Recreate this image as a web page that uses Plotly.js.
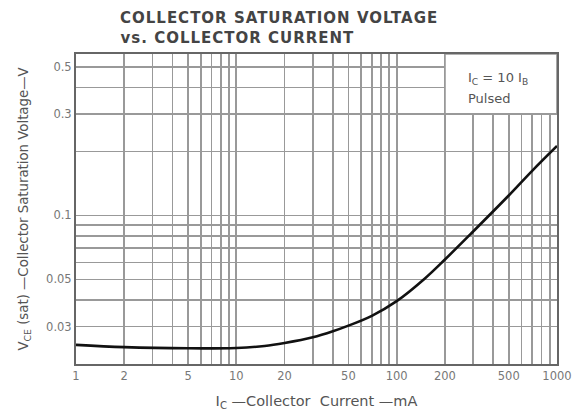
<!DOCTYPE html>
<html>
<head>
<meta charset="utf-8">
<script src="https://cdn.plot.ly/plotly-3.0.1.min.js"></script>
<style>html,body{margin:0;padding:0;background:#fff;}#chart{width:583px;height:412px;}</style>
</head>
<body>
<div id="chart"></div>
<script>
// Curve data (collector current mA, VCE(sat) V)
const currentMA = [1, 2, 5, 10, 15, 20, 30, 40, 50, 70, 100, 150, 200, 300, 500, 700, 1000];
const vceSat = [0.0246, 0.0240, 0.0237, 0.0238, 0.0243, 0.0251, 0.0267, 0.0285, 0.0303, 0.0337, 0.0395, 0.0505, 0.062, 0.084, 0.124, 0.162, 0.212];

// Grid/tick definitions
const xGrid = [1,2,3,4,5,6,7,8,9,10,20,30,40,50,60,70,80,90,100,200,300,400,500,600,700,800,900,1000];
const xLabels = {1:'1',2:'2',5:'5',10:'10',20:'20',50:'50',100:'100',200:'200',500:'500',1000:'1000'};
const yGrid = [0.02,0.03,0.04,0.05,0.06,0.07,0.08,0.09,0.1,0.2,0.3,0.4,0.5];
const yLabels = {0.03:'0.03',0.05:'0.05',0.1:'0.1',0.3:'0.3',0.5:'0.5'};

const titleLine1 = 'COLLECTOR SATURATION VOLTAGE';
const titleLine2 = 'vs. COLLECTOR CURRENT';
const xTitle = 'I<sub>C</sub> \u2014Collector  Current \u2014mA';
const yTitle = 'V<sub>CE</sub> (sat) \u2014Collector Saturation Voltage\u2014V';
const noteLine1 = 'I<sub>C</sub> = 10 I<sub>B</sub>';
const noteLine2 = 'Pulsed';

const gridColor = '#999';
const textColor = '#555';

const trace = {
  x: currentMA, y: vceSat, type: 'scatter', mode: 'lines',
  line: {color: '#111', width: 2.6, shape: 'spline', smoothing: 1},
  hoverinfo: 'skip'
};

const layout = {
  width: 583, height: 412,
  margin: {l: 76, r: 26, t: 54, b: 48},
  paper_bgcolor: '#fff', plot_bgcolor: '#fff',
  showlegend: false,
  font: {family: 'DejaVu Sans, sans-serif', color: textColor, size: 11},
  xaxis: {
    type: 'log', range: [0, 3],
    tickmode: 'array', tickvals: xGrid, ticktext: xGrid.map(v => xLabels[v] || ''),
    ticks: '', showgrid: true, gridcolor: gridColor, gridwidth: 1.7,
    showline: true, mirror: true, linecolor: '#666', linewidth: 2,
    zeroline: false,
    tickfont: {family: 'DejaVu Sans, sans-serif', size: 11.5, color: '#777'},
    title: {text: xTitle, font: {family: 'DejaVu Sans, sans-serif', size: 14.5, color: textColor}, standoff: 14}
  },
  yaxis: {
    type: 'log', range: [Math.log10(0.02), Math.log10(0.574)],
    tickmode: 'array', tickvals: yGrid, ticktext: yGrid.map(v => yLabels[v] || ''),
    ticks: '', showgrid: true, gridcolor: gridColor, gridwidth: 1.7,
    showline: true, mirror: true, linecolor: '#666', linewidth: 2,
    zeroline: false,
    tickfont: {family: 'DejaVu Sans, sans-serif', size: 11.5, color: '#777'},
    title: {text: yTitle, font: {family: 'DejaVu Sans, sans-serif', size: 13.3, color: textColor}, standoff: 14}
  },
  shapes: [{
    type: 'rect', xref: 'x', yref: 'y', layer: 'between',
    x0: 200, x1: 1000, y0: 0.3, y1: 0.574,
    fillcolor: '#fff', line: {color: gridColor, width: 1.7}
  }],
  annotations: [
    {text: titleLine1, xref: 'paper', yref: 'paper', x: (118+14-76)/481, y: 1 + (54-18)/310,
     xanchor: 'left', yanchor: 'middle', showarrow: false,
     font: {family: 'DejaVu Sans, sans-serif', size: 15, color: '#444', weight: 'bold'}},
    {text: titleLine2, xref: 'paper', yref: 'paper', x: (118+10.5-76)/481, y: 1 + (54-37.5)/310,
     xanchor: 'left', yanchor: 'middle', showarrow: false,
     font: {family: 'DejaVu Sans, sans-serif', size: 15, color: '#444', weight: 'bold'}},
    {text: noteLine1, xref: 'paper', yref: 'paper', x: (466-76)/481, y: 1 - (78-54)/310,
     xanchor: 'left', yanchor: 'middle', showarrow: false,
     font: {family: 'DejaVu Sans, sans-serif', size: 13, color: textColor}},
    {text: noteLine2, xref: 'paper', yref: 'paper', x: (466-76)/481, y: 1 - (98-54)/310,
     xanchor: 'left', yanchor: 'middle', showarrow: false,
     font: {family: 'DejaVu Sans, sans-serif', size: 13, color: textColor}}
  ]
};

Plotly.newPlot('chart', [trace], layout, {staticPlot: true, displayModeBar: false}).then(gd => {
  // widen the title letters like the reference's spaced lettering
  gd.querySelectorAll('.annotation-text').forEach(t => {
    const s = t.textContent;
    if (s === titleLine1 || s === titleLine2) t.style.letterSpacing = '1px';
  });
});
</script>
</body>
</html>
